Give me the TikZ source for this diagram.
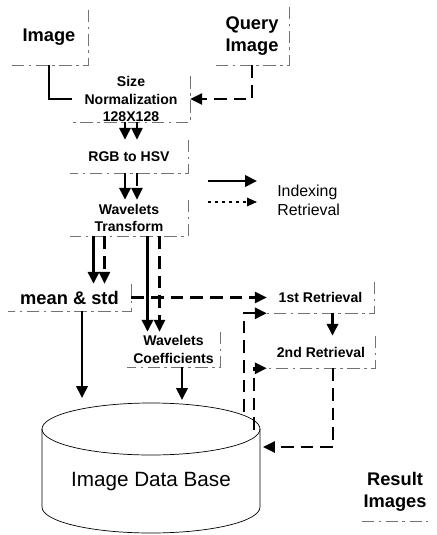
\documentclass[tikz,border=0pt]{standalone}
\usepackage{fontspec}
\setmainfont{Liberation Sans}
\usetikzlibrary{arrows.meta,calc}
\tikzset{
	idx/.style={line width=2pt,-{Triangle[length=8.5pt,width=8pt]}},
	retr/.style={line width=1.7pt,dash pattern=on 9pt off 5pt,-{Triangle[length=8.5pt,width=8pt]}},
	bigbox/.style={align=center,inner sep=0pt,font=\bfseries\fontsize{13}{15.6}\selectfont},
	smallbox/.style={align=center,inner sep=0pt,font=\bfseries\fontsize{10}{12.4}\selectfont},
	boxedge/.style={draw=black!55,line width=0.4pt,dash pattern=on 9pt off 3pt on 2pt off 3pt},
	dbline/.style={line width=0.5pt}
}
\begin{document}
\begin{tikzpicture}
	\useasboundingbox (0,0) rectangle (10.925,-13.375);
	% blocks
	\node[bigbox, minimum width=1.95cm, minimum height=1.375cm] (img) at (1.225,-0.9375) {Image};
	\node[bigbox, minimum width=1.85cm, minimum height=1.45cm] (query) at (6.3,-0.9) {Query\\Image};
	\node[smallbox, minimum width=2.95cm, minimum height=1.1cm] (size) at (3.275,-2.475) {Size\\Normalization\\128X128};
	\node[smallbox, minimum width=2.95cm, minimum height=0.825cm] (rgb) at (3.225,-3.9125) {RGB to HSV};
	\node[smallbox, minimum width=2.95cm, minimum height=0.9cm] (wt) at (3.225,-5.45) {Wavelets\\Transform};
	\node[bigbox, minimum width=3.075cm, minimum height=0.675cm] (mean) at (1.7375,-7.4375) {mean \& std};
	\node[smallbox, minimum width=2.325cm, minimum height=0.875cm] (coef) at (4.3375,-8.7375) {Wavelets\\Coefficients};
	\node[smallbox, minimum width=2.675cm, minimum height=0.775cm] (r1) at (8.0125,-7.4375) {1st Retrieval};
	\node[smallbox, minimum width=2.7cm, minimum height=0.8cm] (r2) at (8.025,-8.8) {2nd Retrieval};
	\node[bigbox, minimum width=1.65cm, minimum height=1.45cm] (res) at (9.875,-12.3) {Result\\Images};
	
	\foreach \n in {img,query,size,rgb,wt,mean,coef,r1,r2}
		\draw[boxedge] (\n.north east) -- (\n.south east) -- (\n.south west);
	\draw[boxedge] (res.south west) -- (res.south east);
	
	% data base
	\draw[dbline] (1.05,-10.725) -- (1.05,-12.675) arc[start angle=180,end angle=360,x radius=2.725cm,y radius=0.65cm] -- (6.5,-10.725);
	\draw[dbline] (3.775,-10.725) ellipse [x radius=2.725cm, y radius=0.65cm];
	\node[font=\fontsize{14.7}{17}\selectfont] (db) at (3.775,-12.05) {Image Data Base};
	\coordinate (dbin1) at (2.05,-9.95);
	\coordinate (dbin2) at (4.55,-10.0);
	\coordinate (dbin3) at (6.575,-11.175);
	\coordinate (dbout1) at (6.1,-10.3);
	\coordinate (dbout2) at (6.35,-10.75);
	
	% legend
	\coordinate (idxa) at (5.2,-4.525);
	\coordinate (idxb) at (6.425,-4.525);
	\coordinate (reta) at (5.2,-5.05);
	\coordinate (retb) at (6.425,-5.05);
	\draw[idx] (idxa) -- (idxb);
	\draw[line width=1pt,dash pattern=on 2pt off 3pt,-{Triangle[length=7pt,width=6pt]}] (reta) -- (retb);
	\node[anchor=west,inner sep=0pt,font=\fontsize{11.3}{13}\selectfont] (legidx) at (6.925,-4.8) {Indexing};
	\node[anchor=west,inner sep=0pt,font=\fontsize{11.3}{13}\selectfont] (legret) at (6.925,-5.25) {Retrieval};
	
	% indexing and retrieval paths
	\draw[idx,-] (img.south) |- (size.west);
	\draw[retr] (query.south) |- (size.east);
	\foreach \a/\b in {size/rgb,rgb/wt}{
		\draw[idx] ([xshift=-0.1cm]\b.north |- \a.south) -- ([xshift=-0.1cm]\b.north);
		\draw[retr] ([xshift=0.2cm]\b.north |- \a.south) -- ([xshift=0.2cm]\b.north);
	}
	\draw[idx] ([xshift=0.6cm]mean.north |- wt.south) -- ([xshift=0.6cm]mean.north);
	\draw[retr] ([xshift=0.875cm]mean.north |- wt.south) -- ([xshift=0.875cm]mean.north);
	\draw[idx] ([xshift=-0.65cm]coef.north |- wt.south) -- ([xshift=-0.65cm]coef.north);
	\draw[retr] ([xshift=-0.35cm]coef.north |- wt.south) -- ([xshift=-0.35cm]coef.north);
	\draw[idx] (mean.south -| dbin1) -- (dbin1);
	\draw[idx] (coef.south -| dbin2) -- (dbin2);
	\draw[retr] (mean.east) -- (mean.east -| r1.west);
	\draw[retr] (dbout1) |- (r1.south west);
	\draw[retr] (dbout2) |- (r2.south west);
	\draw[idx] ([xshift=0.3cm]r1.south) -- ([xshift=0.3cm]r1.south |- r2.north);
	\draw[retr] ([xshift=0.3cm]r2.south) |- (dbin3);
\end{tikzpicture}
\end{document}
